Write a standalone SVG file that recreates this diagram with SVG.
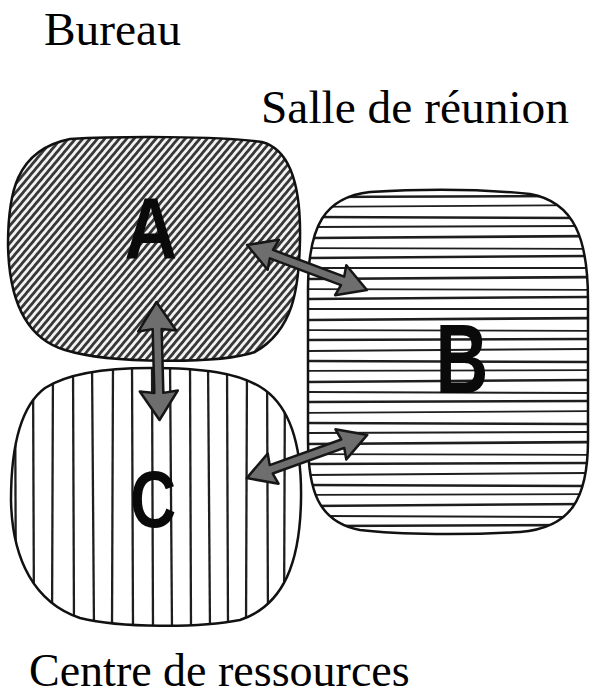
<svg xmlns="http://www.w3.org/2000/svg" width="597" height="695" viewBox="0 0 597 695">
<style>
.lbl{font-family:"Liberation Serif","Times New Roman",serif;font-size:46px;fill:#000}
.big{font-size:47.4px}
.let{font-family:"Liberation Sans",Arial,sans-serif;font-weight:bold;fill:#0a0a0a;text-anchor:middle}
.outline{fill:none;stroke:#111;stroke-width:2.5}
.hb{stroke:#1e1e1e;fill:none}
.hc{stroke:#1e1e1e;stroke-width:2.3;fill:none}
.arrow{fill:#6e6e6e;stroke:#161616;stroke-width:2.5;stroke-linejoin:round}
</style>
<defs>
<pattern id="diag" width="10" height="5.6" patternUnits="userSpaceOnUse" patternTransform="rotate(-50)">
<rect width="10" height="5.6" fill="#f2f2f2"/>
<rect y="0" width="10" height="2.8" fill="#383838"/>
</pattern>
<clipPath id="clipB"><path d="M 370,192 C 420,189 480,189 530,194 C 575,202 588,240 588,300 L 588,440 C 588,500 570,528 520,532 C 470,535 400,535 360,530 C 318,522 308,490 308,440 L 308,290 C 308,225 325,197 370,192 Z"/></clipPath>
<clipPath id="clipC"><path d="M 150,368 C 200,368 240,372 265,390 C 292,410 302,450 301,500 C 300,560 285,605 240,620 C 200,628 120,628 80,618 C 35,603 12,560 11,500 C 11,445 22,405 45,388 C 70,372 110,368 150,368 Z"/></clipPath>
</defs>
<rect width="597" height="695" fill="#fff"/>

<g id="node-C">
<path d="M 150,368 C 200,368 240,372 265,390 C 292,410 302,450 301,500 C 300,560 285,605 240,620 C 200,628 120,628 80,618 C 35,603 12,560 11,500 C 11,445 22,405 45,388 C 70,372 110,368 150,368 Z" fill="#fff"/>
<g clip-path="url(#clipC)" class="hc">
<path d="M 15,360 L 16,630"/>
<path d="M 33,360 L 34,630"/>
<path d="M 53,360 L 52,630"/>
<path d="M 73,360 L 74,630"/>
<path d="M 92,360 L 94,630"/>
<path d="M 113,360 L 112,630"/>
<path d="M 132,360 L 133,630"/>
<path d="M 152,360 L 153,630"/>
<path d="M 170,360 L 172,630"/>
<path d="M 190,360 L 191,630"/>
<path d="M 208,360 L 210,630"/>
<path d="M 227,360 L 228,630"/>
<path d="M 247,360 L 246,630"/>
<path d="M 267,360 L 268,630"/>
<path d="M 285,360 L 284,630"/>
</g>
<path class="outline" d="M 150,368 C 200,368 240,372 265,390 C 292,410 302,450 301,500 C 300,560 285,605 240,620 C 200,628 120,628 80,618 C 35,603 12,560 11,500 C 11,445 22,405 45,388 C 70,372 110,368 150,368 Z"/>
<text class="let" font-size="80" transform="translate(153,527) scale(0.8,1)">C</text>
<text class="lbl" x="29" y="686">Centre de ressources</text>
</g>

<g id="node-A">
<path d="M 70,139 C 120,136 220,136 262,142 C 292,150 301,190 300,240 C 299,290 293,330 255,352 C 220,364 110,364 65,350 C 25,338 9,300 8,245 C 8,195 15,150 70,139 Z" fill="url(#diag)" stroke="#111" stroke-width="2.5"/>
<text class="let" font-size="88" transform="translate(151,258) scale(0.83,1)">A</text>
<text class="lbl big" x="44" y="45">Bureau</text>
</g>

<g id="node-B">
<path d="M 370,192 C 420,189 480,189 530,194 C 575,202 588,240 588,300 L 588,440 C 588,500 570,528 520,532 C 470,535 400,535 360,530 C 318,522 308,490 308,440 L 308,290 C 308,225 325,197 370,192 Z" fill="#fff"/>
<g clip-path="url(#clipB)" class="hb">
<path d="M 300,197 L 600,196" stroke-width="2.5"/>
<path d="M 300,207 L 600,205" stroke-width="1.8"/>
<path d="M 300,217 L 600,218" stroke-width="2.5"/>
<path d="M 300,227 L 600,226" stroke-width="2"/>
<path d="M 300,238 L 600,236" stroke-width="2.6"/>
<path d="M 300,248 L 600,249" stroke-width="1.8"/>
<path d="M 300,258 L 600,256" stroke-width="2.5"/>
<path d="M 300,268 L 600,268" stroke-width="2"/>
<path d="M 300,279 L 600,277" stroke-width="2.6"/>
<path d="M 300,289 L 600,290" stroke-width="1.8"/>
<path d="M 300,299 L 600,297" stroke-width="2.5"/>
<path d="M 300,309 L 600,309" stroke-width="2"/>
<path d="M 300,320 L 600,318" stroke-width="2.6"/>
<path d="M 300,330 L 600,331" stroke-width="1.8"/>
<path d="M 300,340 L 600,339" stroke-width="2.5"/>
<path d="M 300,351 L 600,349" stroke-width="2"/>
<path d="M 300,361 L 600,362" stroke-width="2.6"/>
<path d="M 300,371 L 600,370" stroke-width="1.8"/>
<path d="M 300,382 L 600,380" stroke-width="2.5"/>
<path d="M 300,392 L 600,393" stroke-width="2"/>
<path d="M 300,402 L 600,401" stroke-width="2.6"/>
<path d="M 300,413 L 600,411" stroke-width="1.8"/>
<path d="M 300,423 L 600,424" stroke-width="2.5"/>
<path d="M 300,433 L 600,432" stroke-width="2"/>
<path d="M 300,444 L 600,442" stroke-width="2.6"/>
<path d="M 300,454 L 600,455" stroke-width="1.8"/>
<path d="M 300,464 L 600,463" stroke-width="2.5"/>
<path d="M 300,475 L 600,473" stroke-width="2"/>
<path d="M 300,485 L 600,486" stroke-width="2.6"/>
<path d="M 300,495 L 600,494" stroke-width="1.8"/>
<path d="M 300,506 L 600,504" stroke-width="2.5"/>
<path d="M 300,516 L 600,517" stroke-width="2"/>
<path d="M 300,526 L 600,525" stroke-width="2.6"/>
</g>
<path class="outline" d="M 370,192 C 420,189 480,189 530,194 C 575,202 588,240 588,300 L 588,440 C 588,500 570,528 520,532 C 470,535 400,535 360,530 C 318,522 308,490 308,440 L 308,290 C 308,225 325,197 370,192 Z"/>
<text class="let" font-size="99" transform="translate(462,393) scale(0.74,1)">B</text>
<text class="lbl big" x="261" y="123">Salle de réunion</text>
</g>

<g id="connectors">
<g transform="translate(158,361) rotate(88.5)">
<path class="arrow" d="M -59,0 L -30,-19 L -32,-4.5 L 32,-4.5 L 30,-19 L 59,0 L 30,19 L 32,4.5 L -32,4.5 L -30,19 Z"/>
</g>
<g transform="translate(307,267.5) rotate(20.6)">
<path class="arrow" d="M -64,0 L -36,-16 L -38,-4.5 L 38,-4.5 L 36,-16 L 64,0 L 36,16 L 38,4.5 L -38,4.5 L -36,16 Z"/>
</g>
<g transform="translate(307,456.5) rotate(-19.7)">
<path class="arrow" d="M -64,0 L -36,-16 L -38,-4.5 L 38,-4.5 L 36,-16 L 64,0 L 36,16 L 38,4.5 L -38,4.5 L -36,16 Z"/>
</g>
</g>
</svg>
